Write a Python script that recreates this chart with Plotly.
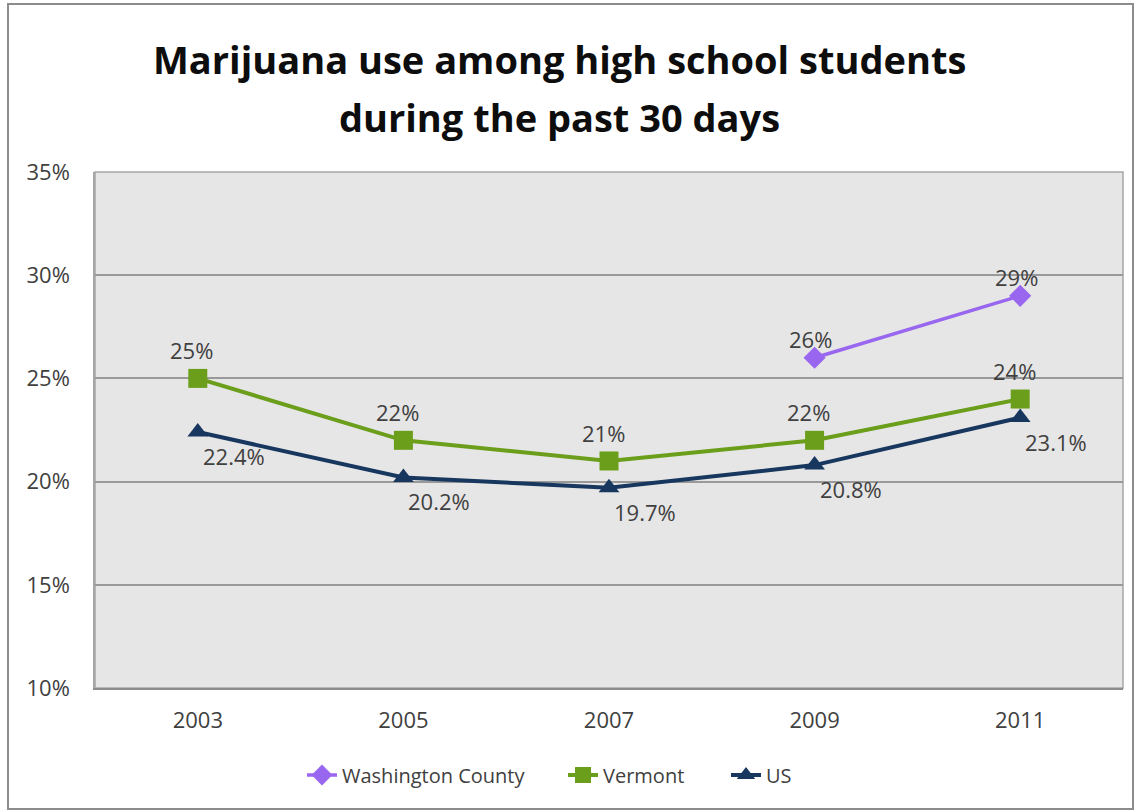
import plotly.graph_objects as go

# Survey years and 30-day marijuana use (%)
years = ["2003", "2005", "2007", "2009", "2011"]
washington = [None, None, None, 26, 29]
vermont = [25, 22, 21, 22, 24]
us = [22.4, 20.2, 19.7, 20.8, 23.1]

washington_labels = ["", "", "", "26%", "29%"]
vermont_labels = ["25%", "22%", "21%", "22%", "24%"]
us_labels = ["22.4%", "20.2%", "19.7%", "20.8%", "23.1%"]

title_lines = ["Marijuana use among high school students", "during the past 30 days"]
y_ticks = [10, 15, 20, 25, 30, 35]

W, H = 1136, 811
ML, MR, MT, MB = 95, 13, 172, 123
PW, PH = W - ML - MR, H - MT - MB

FONT = "Open Sans"
TEXT_COLOR = "#404040"
LABEL_FONT = dict(family=FONT, size=22, color=TEXT_COLOR)

PURPLE, GREEN, NAVY = "#9966F0", "#6B9E1A", "#17375E"


def px_x(x):
    return (x - ML) / PW


def px_y(y):
    return (H - MB - y) / PH


fig = go.Figure()

fig.add_trace(go.Scatter(
    x=years, y=washington, name="Washington County", legend="legend",
    mode="lines+markers",
    line=dict(color=PURPLE, width=3.5),
    marker=dict(symbol="diamond", size=17, color=PURPLE),
    connectgaps=False,
))
fig.add_trace(go.Scatter(
    x=years, y=vermont, name="Vermont", legend="legend2",
    mode="lines+markers",
    line=dict(color=GREEN, width=4),
    marker=dict(symbol="square", size=19, color=GREEN),
))
fig.add_trace(go.Scatter(
    x=years, y=us, name="US", legend="legend3",
    mode="lines+markers",
    line=dict(color=NAVY, width=4),
    marker=dict(symbol="triangle-up", size=18, color=NAVY),
))

# value labels placed at each data point (x given as category index)
annotations = []
label_common = dict(xref="x", yref="y", showarrow=False, yanchor="middle", font=LABEL_FONT)
for i, (val, lab) in enumerate(zip(washington, washington_labels)):
    if val is not None and lab:
        annotations.append(dict(label_common, x=i, y=val, text=lab,
                                xanchor="center", xshift=-4, yshift=19))
for i, (val, lab) in enumerate(zip(vermont, vermont_labels)):
    annotations.append(dict(label_common, x=i, y=val, text=lab,
                            xanchor="center", xshift=-6, yshift=28))
for i, (val, lab) in enumerate(zip(us, us_labels)):
    annotations.append(dict(label_common, x=i, y=val, text=lab,
                            xanchor="left", xshift=3, yshift=-24))

# two-line chart title
for line, ypix in zip(title_lines, [59, 117]):
    annotations.append(dict(xref="paper", yref="paper",
                            x=px_x(559), y=px_y(ypix),
                            text=f"<b>{line}</b>", showarrow=False,
                            xanchor="center", yanchor="middle",
                            font=dict(family=FONT, size=38, color="#0D0D0D")))

legend_common = dict(
    orientation="h", yanchor="middle", y=px_y(775),
    xanchor="left", bgcolor="rgba(0,0,0,0)",
    font=dict(family=FONT, size=20, color=TEXT_COLOR),
    itemwidth=30,
)

fig.update_layout(
    width=W, height=H,
    margin=dict(l=ML, r=MR, t=MT, b=MB),
    paper_bgcolor="white",
    plot_bgcolor="#E6E6E6",
    xaxis=dict(
        type="category", categoryorder="array", categoryarray=years,
        range=[-0.5, 4.5],
        showgrid=False, ticks="",
        tickfont=dict(family=FONT, size=22, color=TEXT_COLOR),
        ticklabelstandoff=12,
        showline=True, linecolor="#8C8C8C", linewidth=2,
        zeroline=False,
    ),
    yaxis=dict(
        range=[10, 35], tickvals=y_ticks,
        ticktext=[f"{v}%" for v in y_ticks],
        showgrid=True, gridcolor="#999999", gridwidth=2,
        tickfont=dict(family=FONT, size=22, color=TEXT_COLOR),
        ticks="", ticklabelstandoff=19,
        showline=True, linecolor="#A6A6A6", linewidth=1.5,
        zeroline=False,
    ),
    legend=dict(legend_common, x=px_x(302)),
    legend2=dict(legend_common, x=px_x(563)),
    legend3=dict(legend_common, x=px_x(726)),
    showlegend=True,
    annotations=annotations,
    shapes=[
        # outer chart frame
        dict(type="rect", xref="paper", yref="paper",
             x0=px_x(8), x1=px_x(1133), y0=px_y(809), y1=px_y(4),
             line=dict(color="#8C8C8C", width=2), fillcolor="rgba(0,0,0,0)",
             layer="below"),
        # plot area border
        dict(type="rect", xref="paper", yref="paper",
             x0=0, x1=1, y0=0, y1=1,
             line=dict(color="#A6A6A6", width=1.5), fillcolor="rgba(0,0,0,0)",
             layer="below"),
    ],
)

fig.write_html("out.html")
